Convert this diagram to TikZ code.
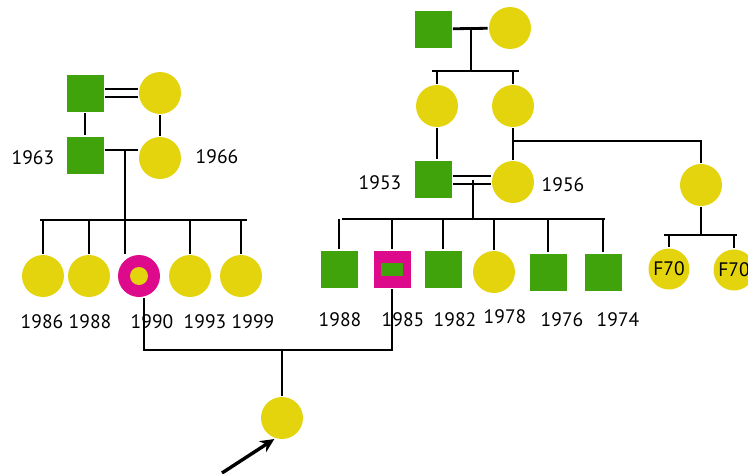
\documentclass[tikz,border=0pt]{standalone}
\usepackage{fontspec}
\setmainfont{PT Sans}
\usetikzlibrary{arrows.meta,calc}
\definecolor{malegreen}{RGB}{64,163,12}
\definecolor{femyellow}{RGB}{228,212,14}
\definecolor{affpink}{RGB}{221,10,140}

\begin{document}
\begin{tikzpicture}[x=1pt,y=-1pt,line width=2.8pt,
  male/.style={rectangle,fill=malegreen,minimum size=37pt,inner sep=0pt},
  female/.style={circle,fill=femyellow,minimum size=42pt,inner sep=0pt},
  yearlab/.style={font=\fontsize{19.5}{21}\selectfont,inner sep=0pt},
  consang/.style={double,double distance=6pt,line width=1.7pt}]
\useasboundingbox (0,0) rectangle (748,474);
\node[male] (gpaL) at (85,93) {};
\node[female] (gmaL) at (160,93) {};
\node[male] (fa1963) at (85,155) {};
\node[female] (mo1966) at (160,158) {};
\node[yearlab] at (33,158) {1963};
\node[yearlab] at (217,157) {1966};
\node[female] (k1986) at (43,276) {};
\node[female] (k1988) at (89,276) {};
\node[female,fill=affpink] (m1990) at (139,276) {};
\node[circle,fill=femyellow,minimum size=18pt,inner sep=0pt] (m1990in) at (m1990) {};
\node[female] (k1993) at (190,276) {};
\node[female] (k1999) at (241,276) {};
\node[yearlab] at (42,322) {1986};
\node[yearlab] at (90,322) {1988};
\node[yearlab] at (152,322) {1990};
\node[yearlab] at (205,322) {1993};
\node[yearlab] at (253,322) {1999};
\coordinate (mL) at (125,150);
\coordinate (sL) at (125,220);
\coordinate (sLa) at (40,220);
\coordinate (sLb) at (247,220);
\draw[consang] (gpaL) -- (gmaL);
\draw (gpaL) -- (fa1963);
\draw (gmaL) -- (mo1966);
\draw (fa1963.east |- mL) -- (mo1966.west |- mL);
\draw (mL) -- (sL);
\draw (sLa) -- (sLb);
\draw (k1986 |- sL) -- (k1986);
\draw (k1988 |- sL) -- (k1988);
\draw (sL) -- (sL |- m1990.north);
\draw (k1993 |- sL) -- (k1993);
\draw (k1999 |- sL) -- (k1999);
\node[male] (gpaR) at (433,29) {};
\node[female] (gmaR) at (510,28) {};
\node[female] (aunt1) at (437,106) {};
\node[female] (gm2) at (513,106) {};
\node[male] (fa1953) at (433,179) {};
\node[female] (mo1956) at (513,182) {};
\node[female] (aunt3) at (701,185) {};
\node[female,yearlab,minimum size=41pt] (f70a) at (669,269) {F70};
\node[female,yearlab,minimum size=41pt] (f70b) at (734,270) {F70};
\node[yearlab] at (380,183) {1953};
\node[yearlab] at (563,185) {1956};
\node[male] (s1988) at (339,269) {};
\node[male,fill=affpink] (s1985) at (392,269) {};
\node[rectangle,fill=malegreen,minimum width=22pt,minimum height=13pt,inner sep=0pt] (s1985in) at (s1985) {};
\node[male] (s1982) at (443,269) {};
\node[female] (d1978) at (494,272) {};
\node[male] (s1976) at (548,272) {};
\node[male] (s1974) at (603,272) {};
\node[yearlab] at (340,320) {1988};
\node[yearlab] at (403,320) {1985};
\node[yearlab] at (455,320) {1982};
\node[yearlab] at (505,317) {1978};
\node[yearlab] at (562,320) {1976};
\node[yearlab] at (618,320) {1974};
\coordinate (mR) at (471,27);
\coordinate (sR) at (471,71);
\coordinate (sRa) at (432,71);
\coordinate (sRb) at (519,71);
\coordinate (br) at (513,141);
\coordinate (sF) at (701,235);
\coordinate (sFa) at (664,235);
\coordinate (sFb) at (737,235);
\coordinate (mR2) at (473,180);
\coordinate (sR2) at (473,219);
\coordinate (sR2a) at (342,219);
\coordinate (sR2b) at (605,219);
\draw (gpaR) -- (gmaR);
\draw (mR) -- (sR);
\draw (sRa) -- (sRb);
\draw (aunt1 |- sR) -- (aunt1);
\draw (gm2 |- sR) -- (gm2);
\draw (aunt1) -- (aunt1 |- fa1953.north);
\draw (gm2) -- (mo1956);
\draw (br) -- (br -| aunt3) -- (aunt3);
\draw (aunt3) -- (sF);
\draw (sFa) -- (sFb);
\draw (f70a |- sF) -- (f70a);
\draw (f70b |- sF) -- (f70b);
\draw[consang] (fa1953.east |- mR2) -- (mo1956.west |- mR2);
\draw (mR2) -- (sR2);
\draw (sR2a) -- (sR2b);
\foreach \kid in {s1988,s1985,s1982,d1978,s1976,s1974}
  \draw (\kid |- sR2) -- (\kid);
\node[female] (prob) at (282,418) {};
\coordinate (cp) at (144,350);
\coordinate (cpd) at (282,350);
\coordinate (arr) at (222,473);
\draw (cp |- m1990.south) -- (cp) -- (cp -| s1985) -- (s1985);
\draw (cpd) -- (prob);
\draw[-{Stealth[length=14pt,width=13pt]},line width=3.4pt] (arr) -- (prob.250);
\end{tikzpicture}
\end{document}
